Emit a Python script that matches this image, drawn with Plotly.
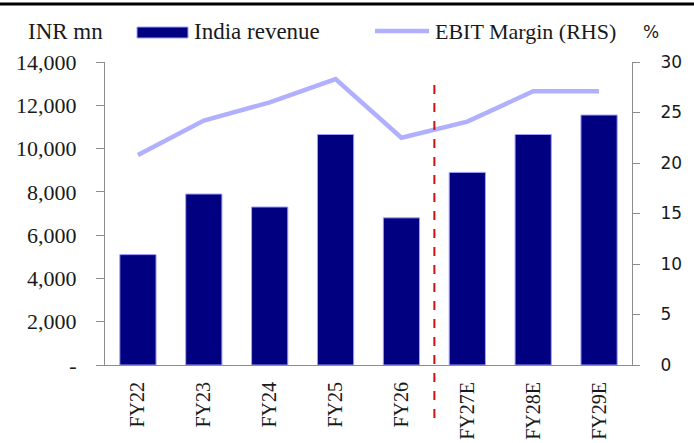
import plotly.graph_objects as go

# data
years = ["FY22", "FY23", "FY24", "FY25", "FY26", "FY27E", "FY28E", "FY29E"]
india_revenue = [5100, 7900, 7300, 10650, 6800, 8900, 10650, 11550]
ebit_margin = [20.8, 24.2, 26.0, 28.3, 22.5, 24.1, 27.1, 27.1]
rev_ticks = [0, 2000, 4000, 6000, 8000, 10000, 12000, 14000]
rev_ticktext = ["-", "2,000", "4,000", "6,000", "8,000", "10,000", "12,000", "14,000"]
margin_ticks = [0, 5, 10, 15, 20, 25, 30]

W, H = 694, 443
L, R, T, B = 105, 62, 62, 78
NAVY = "#000080"
LAVENDER = "#b0b0ff"
AXIS_GREY = "#8c8c8c"
SERIF = "Liberation Serif"
SANS = "DejaVu Sans"
TXT = "#1a1a1a"


def px_x(x):
    return (x - L) / (W - L - R)


def px_y(y):
    return (H - B - y) / (H - T - B)


fig = go.Figure()
fig.add_trace(
    go.Bar(
        x=years,
        y=india_revenue,
        name="India revenue",
        marker=dict(color=NAVY, line=dict(color="#a0a0ff", width=1)),
        yaxis="y",
    )
)
fig.add_trace(
    go.Scatter(
        x=years,
        y=ebit_margin,
        name="EBIT Margin (RHS)",
        mode="lines",
        line=dict(color=LAVENDER, width=4.5),
        yaxis="y2",
    )
)

fig.update_layout(
    width=W,
    height=H,
    margin=dict(l=L, r=R, t=T, b=B),
    paper_bgcolor="white",
    plot_bgcolor="white",
    showlegend=False,
    bargap=0.45,
    font=dict(family=SERIF, size=22, color=TXT),
    xaxis=dict(
        type="category",
        automargin=False,
        showline=True,
        linecolor=AXIS_GREY,
        linewidth=1,
        ticks="",
        tickangle=-90,
        ticklabelstandoff=8,
        tickfont=dict(family=SERIF, size=20, color=TXT),
        showgrid=False,
        zeroline=False,
    ),
    yaxis=dict(
        range=[0, 14000],
        automargin=False,
        tickvals=rev_ticks,
        ticktext=rev_ticktext,
        showline=True,
        linecolor=AXIS_GREY,
        ticks="outside",
        ticklen=8,
        tickcolor=AXIS_GREY,
        ticklabelstandoff=15,
        tickfont=dict(family=SERIF, size=22, color=TXT),
        showgrid=False,
        zeroline=False,
    ),
    yaxis2=dict(
        range=[0, 30],
        automargin=False,
        tickvals=margin_ticks,
        overlaying="y",
        side="right",
        anchor="x",
        showline=True,
        linecolor=AXIS_GREY,
        ticks="outside",
        ticklen=7,
        tickcolor=AXIS_GREY,
        ticklabelstandoff=17,
        tickfont=dict(family=SANS, size=17, color=TXT),
        showgrid=False,
        zeroline=False,
    ),
)

# forecast divider
fig.add_shape(
    type="line",
    xref="x",
    yref="paper",
    x0=4.5,
    x1=4.5,
    y0=px_y(418),
    y1=px_y(80),
    line=dict(color="#cc1111", width=2, dash="dash"),
)

# top border
fig.add_shape(
    type="line",
    xref="paper",
    yref="paper",
    x0=px_x(0),
    x1=px_x(W),
    y0=px_y(4),
    y1=px_y(4),
    line=dict(color="black", width=3),
)

# legend drawn by hand
fig.add_shape(
    type="rect",
    xref="paper",
    yref="paper",
    x0=px_x(137),
    x1=px_x(188),
    y0=px_y(38),
    y1=px_y(27),
    fillcolor=NAVY,
    line=dict(color="#a0a0ff", width=1),
)
fig.add_shape(
    type="line",
    xref="paper",
    yref="paper",
    x0=px_x(375),
    x1=px_x(429),
    y0=px_y(31),
    y1=px_y(31),
    line=dict(color=LAVENDER, width=4.5),
)

labels = [
    ("INR mn", 65, "center", SERIF, 23),
    ("India revenue", 192, "left", SERIF, 23),
    ("EBIT Margin (RHS)", 433, "left", SERIF, 22),
    ("%", 651, "center", SANS, 17),
]
for text, x, anchor, fam, size in labels:
    fig.add_annotation(
        text=text,
        xref="paper",
        yref="paper",
        x=px_x(x),
        y=px_y(32),
        xanchor=anchor,
        yanchor="middle",
        showarrow=False,
        font=dict(family=fam, size=size, color=TXT),
    )

# drop the default page margin so the figure sits at the window's corner
fig.write_html(
    "out.html",
    config={"displayModeBar": False},
    post_script="document.body.style.margin='0';",
)
